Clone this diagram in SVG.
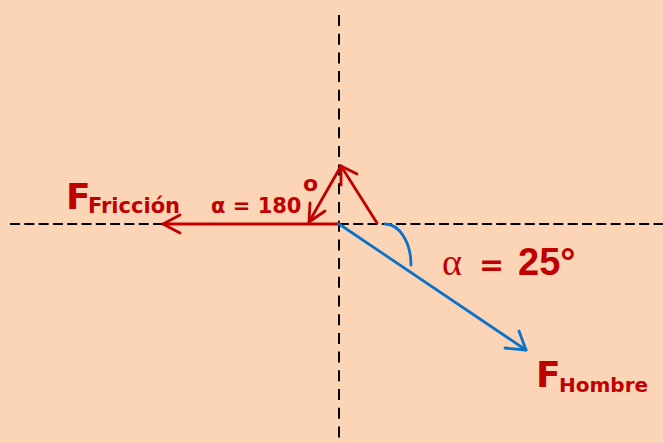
<svg xmlns="http://www.w3.org/2000/svg" width="663" height="443" viewBox="0 0 663 443">
<defs>
<style>
.red{stroke:#C00000;stroke-width:2.8;fill:none;stroke-linecap:round;stroke-linejoin:round}
.blue{stroke:#0A72C8;stroke-width:2.8;fill:none;stroke-linecap:round;stroke-linejoin:round}
.axis{stroke:#000;stroke-width:2;fill:none}
.t{fill:#C00000;font-family:"Comic Sans MS","DejaVu Sans",sans-serif;font-weight:bold}
</style>
</defs>
<rect width="663" height="443" fill="#FBD5B5"/>
<g id="axes">
<line class="axis" x1="10" y1="224" x2="663" y2="224" stroke-dasharray="10,4.3"/>
<line class="axis" x1="339" y1="15" x2="339" y2="443" stroke-dasharray="11,7.7"/>
</g>
<g id="connectors">
<g id="f-friccion">
<line class="red" x1="339" y1="224" x2="163" y2="224"/>
<polyline class="red" points="180,215 163,224 180,233"/>
</g>
<g id="comp-up">
<line class="red" x1="377" y1="223" x2="341" y2="166"/>
<polyline class="red" points="357,174 341,166 341,185"/>
</g>
<g id="comp-down">
<line class="red" x1="341" y1="166" x2="309" y2="222"/>
<polyline class="red" points="310,203 309,222 325,211"/>
</g>
<g id="f-hombre">
<line class="blue" x1="339" y1="224" x2="526" y2="350"/>
<polyline class="blue" points="505,348 526,350 519,331"/>
</g>
<path id="angle-arc" class="blue" d="M385,224 A26,41 0 0 1 411,265"/>
</g>
<g id="label-friccion">
<text class="t" x="66" y="209" font-size="36">F</text>
<text class="t" x="88" y="213" font-size="21">Fricción</text>
</g>
<g id="label-180">
<text class="t" x="211" y="213" font-size="21">α = 180</text>
<text class="t" x="303" y="191" font-size="22">o</text>
</g>
<g id="label-25">
<text x="442" y="275" font-size="38" fill="#C00000" font-family="'Liberation Serif',serif">α</text>
<text class="t" x="479" y="275" font-size="30">=</text>
<text x="518" y="275" font-size="38" fill="#C00000" font-weight="bold" font-family="'Liberation Sans',sans-serif">25°</text>
</g>
<g id="label-hombre">
<text class="t" x="536" y="387" font-size="36">F</text>
<text class="t" x="559" y="392" font-size="20">Hombre</text>
</g>
</svg>
